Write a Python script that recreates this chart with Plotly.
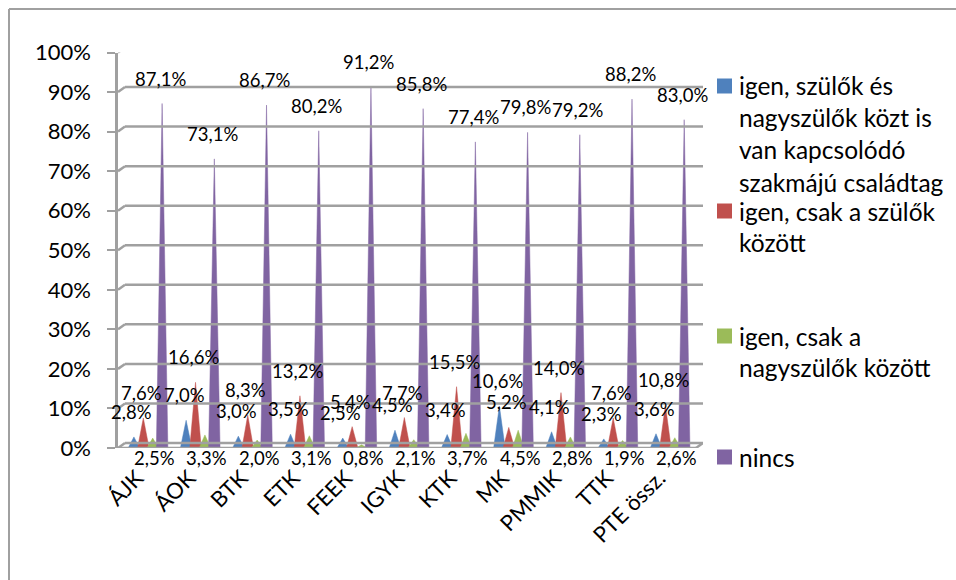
import plotly.graph_objects as go

# ---------------- data ----------------
categories = ["ÁJK", "ÁOK", "BTK", "ETK", "FEEK", "IGYK", "KTK", "MK", "PMMIK", "TTK", "PTE össz."]
series_names = [
    "igen, szülők és nagyszülők közt is van kapcsolódó szakmájú családtag",
    "igen, csak a szülők között",
    "igen, csak a nagyszülők között",
    "nincs",
]
legend_lines = [
    ["igen, szülők és", "nagyszülők közt is", "van kapcsolódó", "szakmájú családtag"],
    ["igen, csak a szülők", "között"],
    ["igen, csak a", "nagyszülők között"],
    ["nincs"],
]
s_both = [2.8, 7.0, 3.0, 3.5, 2.5, 4.5, 3.4, 10.6, 4.1, 2.3, 3.6]
s_parents = [7.6, 16.6, 8.3, 13.2, 5.4, 7.7, 15.5, 5.2, 14.0, 7.6, 10.8]
s_grand = [2.5, 3.3, 2.0, 3.1, 0.8, 2.1, 3.7, 4.5, 2.8, 1.9, 2.6]
s_none = [87.1, 73.1, 86.7, 80.2, 91.2, 85.8, 77.4, 79.8, 79.2, 88.2, 83.0]
y_ticks = list(range(0, 101, 10))
y_tick_labels = [f"{v}%" for v in y_ticks]

series_values = [s_both, s_parents, s_grand, s_none]
colors = ["#4F81BD", "#C0504D", "#9BBB59", "#8064A2"]

# ---------------- geometry / style ----------------
W, H = 956, 580
FONT = "Lato, 'Open Sans', sans-serif"
X_LEFT, X_RIGHT = -0.575, 10.63
PX_LEFT, PX_RIGHT, PX_TOP, PX_BOTTOM = 118, 703, 52.5, 448
offsets = [-0.27, -0.09, 0.09, 0.27]
half_w = 0.11
grid_col = "#A0A0A0"
unit_px = (PX_RIGHT - PX_LEFT) / (X_RIGHT - X_LEFT)


def px(x):
    return x / W


def py(y):
    return 1 - y / H


def fmt(v):
    return f"{v:.1f}".replace(".", ",") + "%"


fig = go.Figure()

# cones drawn as triangles from the data values
for name, vals, col, off in zip(series_names, series_values, colors, offsets):
    xs, ys = [], []
    for i, v in enumerate(vals):
        c = i + off
        xs += [c - half_w, c, c + half_w, c - half_w, None]
        ys += [0, v, 0, 0, None]
    fig.add_trace(go.Scatter(
        x=xs, y=ys, mode="lines", fill="toself", fillcolor=col,
        line=dict(color=col, width=0.5), name=name, showlegend=False,
        hoverinfo="skip",
    ))

annotations = []
# data labels
for s, (vals, off) in enumerate(zip(series_values, offsets)):
    for i, v in enumerate(vals):
        if s == 2:
            annotations.append(dict(x=i + off, y=0, xref="x", yref="y", text=fmt(v),
                                    showarrow=False, yshift=-10, xshift=2,
                                    font=dict(family=FONT, size=18.5, color="#000")))
        else:
            annotations.append(dict(x=i + off, y=v, xref="x", yref="y", text=fmt(v),
                                    showarrow=False, yshift=25, xshift=-2,
                                    font=dict(family=FONT, size=18.5, color="#000")))

shapes = []
# 3D-like back wall gridlines
for v in y_ticks:
    shapes.append(dict(type="line", xref="x", yref="y", xsizemode="pixel", ysizemode="pixel",
                       xanchor=X_LEFT, yanchor=v, x0=0, x1=7, y0=0, y1=5,
                       line=dict(color=grid_col, width=2.5)))
    shapes.append(dict(type="line", xref="x", yref="y", ysizemode="pixel", yanchor=v,
                       x0=X_LEFT + 7 / unit_px, x1=X_RIGHT,
                       y0=5, y1=5, line=dict(color=grid_col, width=2.5)))
# floor front edge and right side
shapes.append(dict(type="line", xref="x", yref="y", x0=X_LEFT, x1=X_RIGHT - 7 / unit_px, y0=0, y1=0,
                   line=dict(color=grid_col, width=2.5)))
shapes.append(dict(type="line", xref="x", yref="y", xsizemode="pixel", ysizemode="pixel",
                   xanchor=X_RIGHT, yanchor=0, x0=-7, x1=0, y0=0, y1=5,
                   line=dict(color=grid_col, width=2.5)))
# chart area border (left and top visible)
shapes.append(dict(type="line", xref="paper", yref="paper", x0=px(9), x1=px(9), y0=py(9), y1=py(600),
                   line=dict(color="#A0A0A0", width=2)))
shapes.append(dict(type="line", xref="paper", yref="paper", x0=px(9), x1=px(990), y0=py(9), y1=py(9),
                   line=dict(color="#A0A0A0", width=2)))

# legend (one line per annotation for Excel-like spacing)
legend_y = [[86, 118, 150, 182], [211, 242], [336, 367], [457]]
for lines, ys, col in zip(legend_lines, legend_y, colors):
    shapes.append(dict(type="rect", xref="paper", yref="paper", x0=px(717), x1=px(732),
                       y0=py(ys[0] + 7.5), y1=py(ys[0] - 7.5), fillcolor=col, line=dict(width=0)))
    for t, yy in zip(lines, ys):
        annotations.append(dict(x=px(737), y=py(yy), xref="paper", yref="paper", text=t,
                                showarrow=False, xanchor="left", yanchor="middle",
                                font=dict(family=FONT, size=24.5, color="#000")))

fig.update_layout(
    template="none",
    width=W, height=H,
    margin=dict(l=0, r=0, t=0, b=0),
    paper_bgcolor="white", plot_bgcolor="rgba(0,0,0,0)",
    showlegend=False,
    shapes=shapes,
    annotations=annotations,
    xaxis=dict(domain=[px(PX_LEFT), px(PX_RIGHT)], range=[X_LEFT, X_RIGHT],
               tickmode="array", tickvals=list(range(len(categories))), ticktext=categories,
               tickangle=-45, ticks="", showgrid=False, zeroline=False, showline=False,
               ticklabelstandoff=12, ticklabelshift=-11,
               automargin=False, tickfont=dict(family=FONT, size=22, color="#000")),
    yaxis=dict(domain=[py(PX_BOTTOM), py(PX_TOP)], range=[0, 100],
               tickmode="array", tickvals=y_ticks, ticktext=y_tick_labels,
               ticks="outside", ticklen=8, tickwidth=2, tickcolor=grid_col,
               showline=True, linecolor=grid_col, linewidth=2.5,
               showgrid=False, zeroline=False, automargin=False, ticklabelstandoff=12,
               tickfont=dict(family=FONT, size=22, color="#000")),
    font=dict(family=FONT, color="#000"),
)

fig.write_html("out.html", config={"displayModeBar": False},
               post_script="document.body.style.margin='0px';")
